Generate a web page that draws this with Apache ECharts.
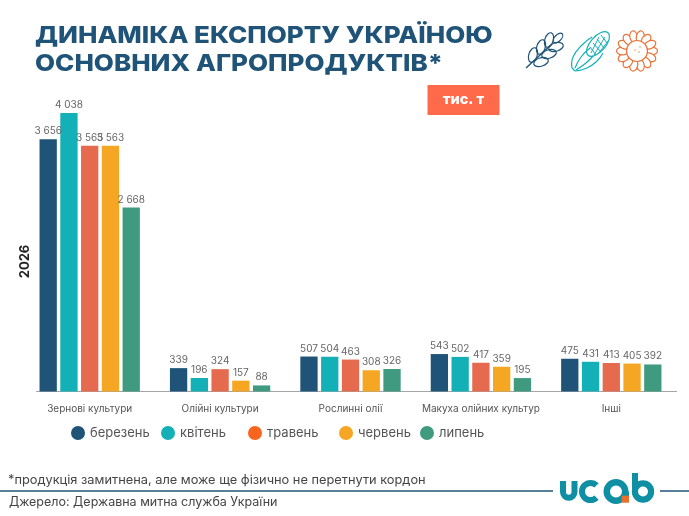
<!DOCTYPE html>
<html><head><meta charset="utf-8">
<style>html,body{margin:0;padding:0;background:#fff}#c{width:689px;height:516px}</style>
<script src="https://cdn.jsdelivr.net/npm/echarts@6/dist/echarts.min.js"></script>
</head><body><div id="c"></div>
<script>
const categories = ['Зернові культури','Олійні культури','Рослинні олії','Макуха олійних культур','Інші'];
const seriesNames = ['березень','квітень','травень','червень','липень'];
const berezen = [3656,339,507,543,475];
const kviten  = [4038,196,504,502,431];
const traven  = [3565,324,463,417,413];
const cherven = [3563,157,308,359,405];
const lypen   = [2668,88,326,195,392];
const barColors = ['#1F5478','#14B0B8','#E66A4E','#F5A623','#409A80'];
const legendColors = ['#1F5478','#14B0B8','#F9651F','#F5A623','#409A80'];
const legendLefts = [66,156,243,334,415];
const allValues = [berezen,kviten,traven,cherven,lypen];
const F = 'Inter, "Open Sans", sans-serif';
const navy = '#1F5478';

function fmt(v){ return String(v).replace(/\B(?=(\d{3})+$)/g,' '); }

const chart = echarts.init(document.getElementById('c'),null,{renderer:'canvas'});

/* decorative icons */
const icons = [];
const st = (c,w)=>({fill:null,stroke:c,lineWidth:w||1.2});
// wheat
icons.push({type:'line',shape:{x1:526,y1:68,x2:552,y2:44},style:st(navy,1.4)});
[[533,55,1.25],[541,47,1.25],[549,40,1.25]].forEach(([x,y,r])=>icons.push({type:'ellipse',x,y,rotation:r,shape:{cx:0,cy:0,rx:7.5,ry:4.2},style:st(navy)}));
[[541,62,0.3],[549,54,0.3],[556,47,0.3]].forEach(([x,y,r])=>icons.push({type:'ellipse',x,y,rotation:r,shape:{cx:0,cy:0,rx:7.5,ry:4.2},style:st(navy)}));
icons.push({type:'ellipse',x:558,y:38,rotation:0.8,shape:{cx:0,cy:0,rx:6,ry:3.2},style:st(navy)});
// corn
const corn='#14B0B8';
const cornLines = [
  [[572,68],[573,57],[582,45],[592,37]],
  [[575,71],[587,68],[597,61],[603,53]],
  [[575,68],[581,57],[590,48]],
  [[576,70],[586,63],[593,56]],
  [[572,68],[575,71]]
];
cornLines.forEach(p=>icons.push({type:'polyline',shape:{points:p,smooth:0.5},style:st(corn)}));
icons.push({type:'ellipse',x:598,y:44,rotation:0.85,shape:{cx:0,cy:0,rx:15,ry:7.5},style:st(corn)});
[[590,47,596,55],[593,43,601,52],[597,39,604,48],[601,35,607,43]].forEach(([a,b,c,d])=>icons.push({type:'line',shape:{x1:a,y1:b,x2:c,y2:d},style:st(corn,1)}));
[[591,53,599,37],[594,55,605,37],[598,54,608,41]].forEach(([a,b,c,d])=>icons.push({type:'line',shape:{x1:a,y1:b,x2:c,y2:d},style:st(corn,1)}));
// sunflower
const sun='#E8743B';
for(let i=0;i<14;i++){
  const a=i/14*Math.PI*2;
  icons.push({type:'ellipse',x:637+Math.cos(a)*14.5,y:51+Math.sin(a)*14.5,rotation:-a,
    shape:{cx:0,cy:0,rx:6,ry:3.9},style:{fill:'#fff',stroke:sun,lineWidth:1.2}});
}
icons.push({type:'circle',shape:{cx:637,cy:51,r:10.5},style:{fill:'#fff',stroke:sun,lineWidth:1.2}});
[[640,47],[635,50],[639,52]].forEach(([x,y])=>icons.push({type:'circle',shape:{cx:x,cy:y,r:0.7},style:{fill:sun}}));

/* ucab logo */
const teal='#0E8FA3';
const logo=[
  {type:'line',shape:{x1:563,y1:481,x2:563,y2:492},style:{stroke:teal,lineWidth:6}},
  {type:'line',shape:{x1:574.5,y1:481,x2:574.5,y2:492},style:{stroke:teal,lineWidth:6}},
  {type:'arc',shape:{cx:568.75,cy:492,r:5.75,startAngle:0,endAngle:Math.PI,clockwise:true},style:{fill:null,stroke:teal,lineWidth:6}},
  {type:'arc',shape:{cx:590.5,cy:491.5,r:8.5,startAngle:Math.PI*0.25,endAngle:Math.PI*1.75,clockwise:true},style:{fill:null,stroke:teal,lineWidth:6}},
  {type:'ring',shape:{cx:616,cy:491.5,r:12.5,r0:6},style:{fill:teal}},
  {type:'rect',shape:{x:622,y:491.5,width:7,height:4.5},style:{fill:teal}},
  {type:'rect',shape:{x:621.7,y:495.7,width:7.3,height:7},style:{fill:'#E8702A'}},
  {type:'ring',shape:{cx:643,cy:491.5,r:11.2,r0:5},style:{fill:teal}},
  {type:'rect',shape:{x:632,y:473,width:6,height:19},style:{fill:teal}}
];

function titleLine(text,y){
  return {type:'text',x:35,y:y,scaleX:1.105,scaleY:1,style:{text:text,font:'800 23.5px '+F,fill:navy,textVerticalAlign:'middle'}};
}

const option = {
  animation:false,
  backgroundColor:'#fff',
  textStyle:{fontFamily:F},
  grid:{left:24.5,width:652,top:91.5,height:300,containLabel:false},
  legend: seriesNames.map((n,i)=>({
    data:[{name:n,itemStyle:{color:legendColors[i]}}],
    left:legendLefts[i],top:421,icon:'circle',itemWidth:14,itemHeight:14,
    textStyle:{fontFamily:F,fontSize:13,color:'#555'}
  })),
  xAxis:{type:'category',data:categories,axisLine:{show:false},axisTick:{show:false},
    axisLabel:{fontFamily:F,fontSize:10,color:'#555',margin:12,interval:0}},
  yAxis:{type:'value',min:0,max:4350,show:true,name:'2026',nameLocation:'middle',nameRotate:90,nameGap:-7,
    nameTextStyle:{fontFamily:F,fontSize:13,fontWeight:'bold',color:'#222',padding:[0,40,0,0]},
    axisLine:{show:false},axisTick:{show:false},axisLabel:{show:false},splitLine:{show:false}},
  series: seriesNames.map((n,i)=>({
    name:n,type:'bar',data:allValues[i],barWidth:17.3,barGap:'20%',
    itemStyle:{color:barColors[i]},
    label:{show:true,position:'top',distance:3,fontFamily:F,fontSize:10,color:'#666',
      formatter:p=>fmt(p.value)}
  })),
  graphic:[
    titleLine('ДИНАМІКА ЕКСПОРТУ УКРАЇНОЮ',35.5),
    titleLine('ОСНОВНИХ АГРОПРОДУКТІВ*',63.5),
    {type:'rect',shape:{x:427.5,y:85,width:72,height:30},style:{fill:'#FF6B4A'}},
    {type:'text',x:463.5,y:100,style:{text:'тис. т',font:'800 14.5px '+F,fill:'#fff',textAlign:'center',textVerticalAlign:'middle'}},
    {type:'line',shape:{x1:36,y1:391.5,x2:677,y2:391.5},style:{stroke:'#A6A6A6',lineWidth:1}},
    {type:'text',x:8,y:480,style:{text:'*продукція замитнена, але може ще фізично не перетнути кордон',font:'400 12.8px '+F,fill:'#444',textVerticalAlign:'middle'}},
    {type:'line',shape:{x1:0,y1:491,x2:553,y2:491},style:{stroke:navy,lineWidth:1.5}},
    {type:'line',shape:{x1:660,y1:491,x2:689,y2:491},style:{stroke:navy,lineWidth:1.5}},
    {type:'text',x:9,y:502,style:{text:'Джерело: Державна митна служба України',font:'400 12.5px '+F,fill:'#444',textVerticalAlign:'middle'}},
    ...logo,
    ...icons
  ]
};
chart.setOption(option);
</script></body></html>
